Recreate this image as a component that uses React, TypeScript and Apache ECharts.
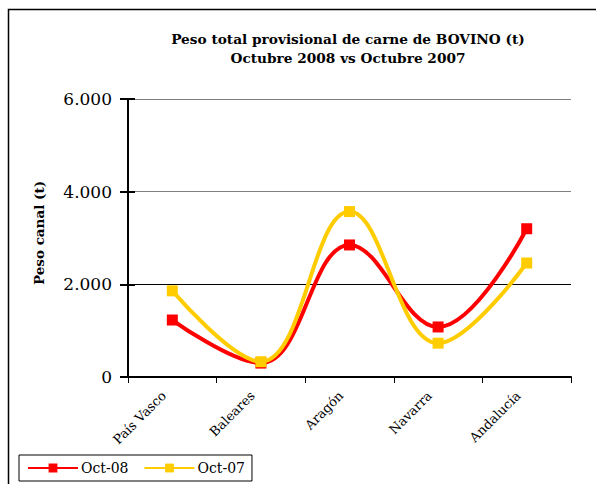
import React, { useEffect, useRef } from "react";
import * as echarts from "echarts";

const categories = ["País Vasco", "Baleares", "Aragón", "Navarra", "Andalucía"];
const oct08 = [1230, 300, 2850, 1080, 3200];
const oct07 = [1860, 330, 3570, 730, 2460];
const yTicks = [0, 2000, 4000, 6000];

const SERIF = "DejaVu Serif";

export default function App() {
  const ref = useRef<HTMLDivElement>(null);
  useEffect(() => {
    if (!ref.current) return;
    const chart = echarts.init(ref.current, undefined, { renderer: "svg" });
    const fmt = (v: number) => (v === 0 ? "0" : v.toLocaleString("de-DE"));
    chart.setOption({
      animation: false,
      backgroundColor: "#fff",
      title: {
        text: "Peso total provisional de carne de BOVINO (t)\nOctubre 2008 vs Octubre 2007",
        left: 343,
        top: 24,
        textAlign: "center",
        textStyle: {
          fontFamily: SERIF,
          fontSize: 13.7,
          fontWeight: "bold",
          lineHeight: 19,
          color: "#000",
        },
      },
      graphic: [
        {
          type: "rect",
          shape: { x: 8.5, y: 9.5, width: 620, height: 520 },
          style: { fill: "none", stroke: "#000", lineWidth: 1.5 },
          z: 100,
        },
      ],
      legend: {
        left: 19,
        top: 455,
        orient: "horizontal",
        padding: [6, 7, 6, 8],
        itemWidth: 50,
        itemHeight: 11,
        itemGap: 15,
        borderColor: "#000",
        borderWidth: 1,
        textStyle: { fontFamily: SERIF, fontSize: 14, color: "#000", padding: [0, 0, 0, -2] },
        data: ["Oct-08", "Oct-07"],
      },
      grid: { left: 128, right: 25, top: 99, bottom: 107, containLabel: false },
      xAxis: {
        type: "category",
        data: categories,
        boundaryGap: true,
        axisLine: { lineStyle: { color: "#000", width: 2 } },
        axisTick: { show: true, length: 6, lineStyle: { color: "#000", width: 1 } },
        axisLabel: {
          rotate: 45,
          margin: 8,
          padding: [0, 12, 0, 0],
          fontFamily: SERIF,
          fontSize: 13,
          color: "#000",
          interval: 0,
        },
      },
      yAxis: [
        {
          type: "value",
          min: yTicks[0],
          max: yTicks[yTicks.length - 1],
          interval: 2000,
          name: "Peso canal (t)",
          nameLocation: "middle",
          nameGap: 82,
          nameTextStyle: {
            fontFamily: SERIF,
            fontSize: 13.5,
            fontWeight: "bold",
            color: "#000",
            padding: [0, 0, 0, 10],
          },
          axisLine: { show: true, lineStyle: { color: "#000", width: 2 } },
          axisTick: { show: true, length: 8, lineStyle: { color: "#000", width: 2 } },
          axisLabel: {
            margin: 16,
            fontFamily: SERIF,
            fontSize: 17,
            color: "#000",
            formatter: fmt,
          },
          splitLine: {
            show: true,
            lineStyle: { color: ["#000", "#000", "#808080", "#808080"], width: 1 },
          },
        },
        {
          type: "value",
          position: "left",
          min: yTicks[0],
          max: yTicks[yTicks.length - 1],
          interval: 2000,
          axisLine: { show: false },
          axisTick: { show: true, inside: true, length: 7, lineStyle: { color: "#000", width: 2 } },
          axisLabel: { show: false },
          splitLine: { show: false },
        },
      ],
      series: [
        {
          name: "Oct-08",
          type: "line",
          data: oct08,
          smooth: 0.4,
          symbol: "rect",
          symbolSize: 11,
          lineStyle: { color: "#FF0000", width: 4 },
          itemStyle: { color: "#FF0000" },
          z: 3,
        },
        {
          name: "Oct-07",
          type: "line",
          data: oct07,
          smooth: 0.4,
          symbol: "rect",
          symbolSize: 11,
          lineStyle: { color: "#FFCC00", width: 4 },
          itemStyle: { color: "#FFCC00" },
          z: 4,
        },
      ],
    });
    return () => chart.dispose();
  }, []);
  return (
    <div
      ref={ref}
      style={{ position: "fixed", left: 0, top: 0, width: 596, height: 484 }}
    />
  );
}
